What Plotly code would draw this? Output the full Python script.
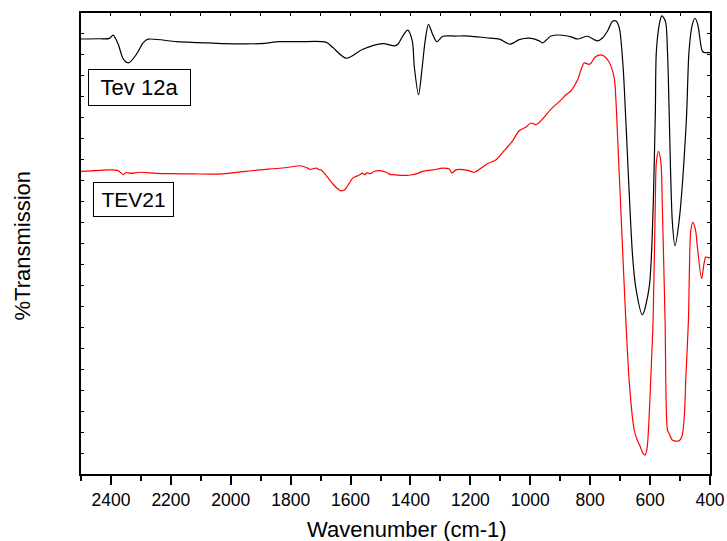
import plotly.graph_objects as go

# FTIR spectra, wavenumber in cm-1, transmission in arbitrary offset units
tev12a_wn = [2500, 2440, 2405, 2393, 2376, 2359, 2341, 2314, 2292, 2276, 2181, 2103,
             2027, 1903, 1837, 1770, 1681, 1659, 1614, 1559, 1493, 1453, 1442, 1426,
             1409, 1394, 1387, 1373, 1361, 1351, 1340, 1326, 1312, 1292, 1250, 1203,
             1148, 1103, 1068, 1037, 1003, 970, 959, 931, 903, 864, 842, 809, 776,
             759, 742, 726, 714, 703, 690, 681, 659, 648, 626, 603, 583, 579, 567,
             561, 549, 542, 526, 517, 503, 479, 470, 459, 450, 441, 431, 426, 419,
             409, 400]
tev12a_t = [20.76, 20.77, 20.79, 20.94, 20.52, 19.81, 19.62, 20.05, 20.59, 20.75, 20.63, 20.59,
            20.54, 20.54, 20.63, 20.63, 20.60, 20.35, 19.84, 20.27, 20.54, 20.43, 20.51, 20.90,
            21.18, 20.67, 19.40, 18.10, 19.40, 20.67, 21.46, 20.98, 20.63, 20.89, 20.90, 20.90,
            20.82, 20.75, 20.51, 20.73, 20.80, 20.67, 20.57, 20.90, 20.95, 20.86, 20.76, 20.89, 20.67,
            20.81, 21.14, 21.59, 21.62, 21.30, 19.40, 16.86, 10.52, 8.92, 7.60, 8.92, 16.86, 20.19, 21.62,
            21.86, 21.62, 20.19, 12.10, 10.90, 12.10, 16.86, 20.19, 21.46, 21.75, 21.46, 20.51, 20.19, 20.11,
            20.11, 20.11]

tev21_wn = [2500, 2450, 2403, 2376, 2359, 2348, 2337, 2303, 2250, 2200, 2127, 2027,
            1959, 1903, 1837, 1800, 1770, 1748, 1737, 1726, 1714, 1705, 1698, 1681,
            1659, 1646, 1634, 1620, 1592, 1570, 1560, 1553, 1545, 1535, 1520, 1503,
            1481, 1470, 1459, 1440, 1414, 1395, 1381, 1359, 1326, 1292, 1270, 1262,
            1250, 1237, 1206, 1187, 1164, 1142, 1114, 1087, 1059, 1037, 1015, 998,
            981, 959, 931, 898, 881, 864, 842, 820, 805, 798, 783, 761, 739, 720,
            714, 709, 701, 670, 653, 643, 633, 625, 617, 610, 604, 598, 590, 583, 579, 572,
            564, 559, 550, 542, 537, 526, 514, 503, 494, 490, 485, 481, 472, 464,
            457, 448, 442, 428, 420, 414, 405, 400]
tev21_t = [14.44, 14.48, 14.51, 14.48, 14.29, 14.40, 14.35, 14.40, 14.35, 14.33, 14.32, 14.32,
           14.43, 14.51, 14.59, 14.65, 14.71, 14.63, 14.54, 14.56, 14.60, 14.52, 14.51, 14.24,
           13.84, 13.65, 13.52, 13.56, 14.13, 14.27, 14.36, 14.28, 14.38, 14.33, 14.45, 14.48,
           14.40, 14.30, 14.29, 14.26, 14.25, 14.28, 14.32, 14.44, 14.51, 14.60, 14.55, 14.37,
           14.50, 14.54, 14.48, 14.40, 14.60, 14.82, 15.00, 15.43, 15.90, 16.38, 16.55, 16.75,
           16.67, 16.94, 17.41, 17.84, 18.10, 18.29, 18.82, 19.62, 19.55, 19.59, 19.90, 19.99, 19.71, 18.92,
           17.81, 16.24, 13.68, 4.48, 2.10, 1.62, 1.31, 1.02, 0.90, 1.25, 2.50, 4.48, 7.33, 12.66, 14.89, 15.40,
           14.89, 12.66, 7.33, 2.10, 1.95, 1.62, 1.57, 1.59, 1.78, 2.10, 2.90, 4.48, 7.33, 11.62,
           12.01, 11.62, 10.82, 9.32, 10.03, 10.35, 10.33, 10.33]

x_ticks = [2400, 2200, 2000, 1800, 1600, 1400, 1200, 1000, 800, 600, 400]

FONT = "Arial, Liberation Sans, sans-serif"

fig = go.Figure()
fig.add_trace(go.Scatter(x=tev12a_wn, y=tev12a_t, mode="lines",
                         line=dict(color="#000000", width=1.2, shape="spline", smoothing=0.8),
                         name="Tev 12a", hoverinfo="x+y"))
fig.add_trace(go.Scatter(x=tev21_wn, y=tev21_t, mode="lines",
                         line=dict(color="#ff0000", width=1.2, shape="spline", smoothing=0.8),
                         name="TEV21", hoverinfo="x+y"))
# carrier for the top tick axis
fig.add_trace(go.Scatter(x=[2500, 400], y=[None, None], xaxis="x2", mode="lines",
                         showlegend=False, hoverinfo="skip"))

fig.update_layout(
    width=727, height=541,
    margin=dict(l=81, r=17, t=13, b=67),
    paper_bgcolor="white", plot_bgcolor="white",
    showlegend=False,
    font=dict(family=FONT, color="black"),
    xaxis=dict(
        range=[2500, 400], tickmode="array", tickvals=x_ticks,
        ticktext=[str(v) for v in x_ticks], automargin=False,
        ticks="outside", ticklen=9, tickwidth=1.5, tickcolor="black",
        minor=dict(dtick=100, tick0=0, ticks="outside", ticklen=5, tickwidth=1.5, tickcolor="black"),
        showline=True, linecolor="black", linewidth=1.8, mirror=True,
        showgrid=False, zeroline=False,
        tickfont=dict(size=17.5, family=FONT),
    ),
    xaxis2=dict(
        range=[2500, 400], overlaying="x", side="top", anchor="y", automargin=False,
        tickmode="linear", tick0=0, dtick=100,
        ticks="inside", ticklen=3, tickwidth=1.2, tickcolor="black",
        showticklabels=False, showline=False, showgrid=False, zeroline=False,
    ),
    yaxis=dict(
        range=[0, 22], tickmode="linear", tick0=0, dtick=1, automargin=False,
        ticks="inside", ticklen=3, tickwidth=1.2, tickcolor="black",
        showticklabels=False,
        showline=True, linecolor="black", linewidth=1.8, mirror="ticks",
        showgrid=False, zeroline=False,
    ),
    annotations=[
        dict(text="Wavenumber (cm-1)", xref="paper", yref="paper",
             x=0.519, y=-0.121, xanchor="center", yanchor="middle",
             showarrow=False, font=dict(size=22, family=FONT)),
        dict(text="%Transmission", xref="paper", yref="paper",
             x=-0.093, y=0.4946, xanchor="center", yanchor="middle", textangle=-90,
             showarrow=False, font=dict(size=22, family=FONT)),
        dict(text="Tev 12a", xref="paper", yref="paper",
             x=(139.7 - 81) / 629, y=(474 - 87) / 461, xanchor="center", yanchor="middle",
             showarrow=False, font=dict(size=22, family=FONT),
             bordercolor="black", borderwidth=1, borderpad=0, bgcolor="white",
             width=101, height=35),
        dict(text="TEV21", xref="paper", yref="paper",
             x=(133.7 - 81) / 629, y=(474 - 199.2) / 461, xanchor="center", yanchor="middle",
             showarrow=False, font=dict(size=21, family=FONT),
             bordercolor="black", borderwidth=1, borderpad=0, bgcolor="white",
             width=79, height=33),
    ],
)

fig.write_html("out.html")
